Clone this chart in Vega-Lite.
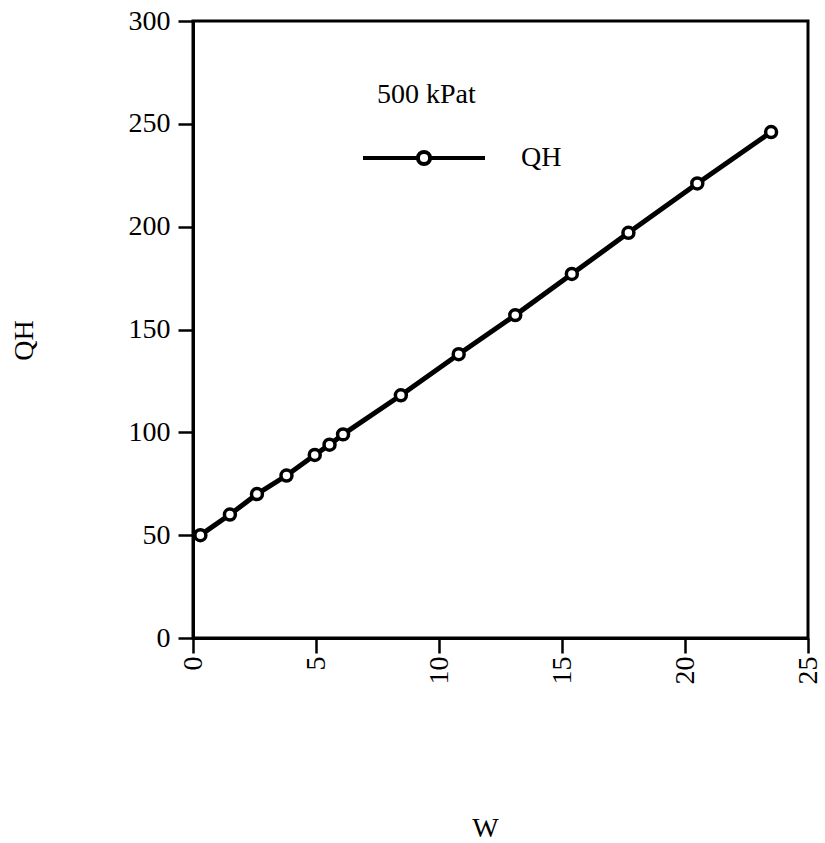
{
  "$schema": "https://vega.github.io/schema/vega-lite/v6.json",
  "width": 615,
  "height": 617,
  "autosize": {"type": "none"},
  "padding": {"left": 193, "top": 21, "right": 17, "bottom": 205},
  "background": "white",
  "title": {
    "text": "500 kPat",
    "anchor": "start",
    "frame": "group",
    "orient": "top",
    "offset": 0,
    "dx": 184,
    "dy": 102,
    "font": "Liberation Serif",
    "fontSize": 28,
    "fontWeight": "normal",
    "color": "black"
  },
  "config": {
    "view": {"stroke": "black", "strokeWidth": 3},
    "font": "Liberation Serif",
    "axis": {
      "domainColor": "black",
      "domainWidth": 3,
      "tickColor": "black",
      "tickWidth": 2.5,
      "tickSize": 15,
      "labelFont": "Liberation Serif",
      "labelFontSize": 28,
      "labelColor": "black",
      "titleFont": "Liberation Serif",
      "titleFontSize": 28,
      "titleFontWeight": "normal",
      "titleColor": "black",
      "grid": false
    }
  },
  "data": {
    "values": [
      {"W": 0.3, "QH": 50, "series": "QH"},
      {"W": 1.5, "QH": 60, "series": "QH"},
      {"W": 2.6, "QH": 70, "series": "QH"},
      {"W": 3.8, "QH": 79, "series": "QH"},
      {"W": 4.95, "QH": 89, "series": "QH"},
      {"W": 5.55, "QH": 94, "series": "QH"},
      {"W": 6.1, "QH": 99, "series": "QH"},
      {"W": 8.45, "QH": 118, "series": "QH"},
      {"W": 10.8, "QH": 138, "series": "QH"},
      {"W": 13.1, "QH": 157, "series": "QH"},
      {"W": 15.4, "QH": 177, "series": "QH"},
      {"W": 17.7, "QH": 197, "series": "QH"},
      {"W": 20.5, "QH": 221, "series": "QH"},
      {"W": 23.5, "QH": 246, "series": "QH"}
    ]
  },
  "encoding": {
    "x": {
      "field": "W",
      "type": "quantitative",
      "scale": {"domain": [0, 25], "nice": false, "zero": false},
      "axis": {
        "title": "W",
        "values": [0, 5, 10, 15, 20, 25],
        "labelAngle": 270,
        "labelAlign": "right",
        "labelBaseline": "middle",
        "labelPadding": 3,
        "titleX": 292,
        "titleY": 190,
        "titleAnchor": null,
        "titleAlign": "center",
        "titleBaseline": "middle"
      }
    },
    "y": {
      "field": "QH",
      "type": "quantitative",
      "scale": {"domain": [0, 300], "nice": false},
      "axis": {
        "title": "QH",
        "values": [0, 50, 100, 150, 200, 250, 300],
        "labelPadding": 8,
        "titleX": -169,
        "titleY": 319,
        "titleAngle": 270,
        "titleAlign": "center",
        "titleBaseline": "middle"
      }
    }
  },
  "layer": [
    {
      "mark": {"type": "line", "color": "black", "strokeWidth": 5},
      "encoding": {
        "color": {
          "field": "series",
          "type": "nominal",
          "scale": {"range": ["black"]},
          "legend": {
            "orient": "none",
            "legendX": 168,
            "legendY": 74,
            "title": null,
            "symbolType": "M-1,0L-0.1,0M0.1,0L1,0M0.1,0A0.1,0.1,0,1,1,-0.1,0A0.1,0.1,0,1,1,0.1,0",
            "symbolSize": 14884,
            "symbolStrokeWidth": 4,
            "symbolStrokeColor": "black",
            "symbolFillColor": "white",
            "labelFont": "Liberation Serif",
            "labelFontSize": 28,
            "labelColor": "black",
            "labelOffset": 34
          }
        }
      }
    },
    {
      "mark": {"type": "point", "shape": "circle", "filled": true, "fill": "white", "stroke": "black", "strokeWidth": 3.5, "size": 120, "opacity": 1}
    }
  ]
}
